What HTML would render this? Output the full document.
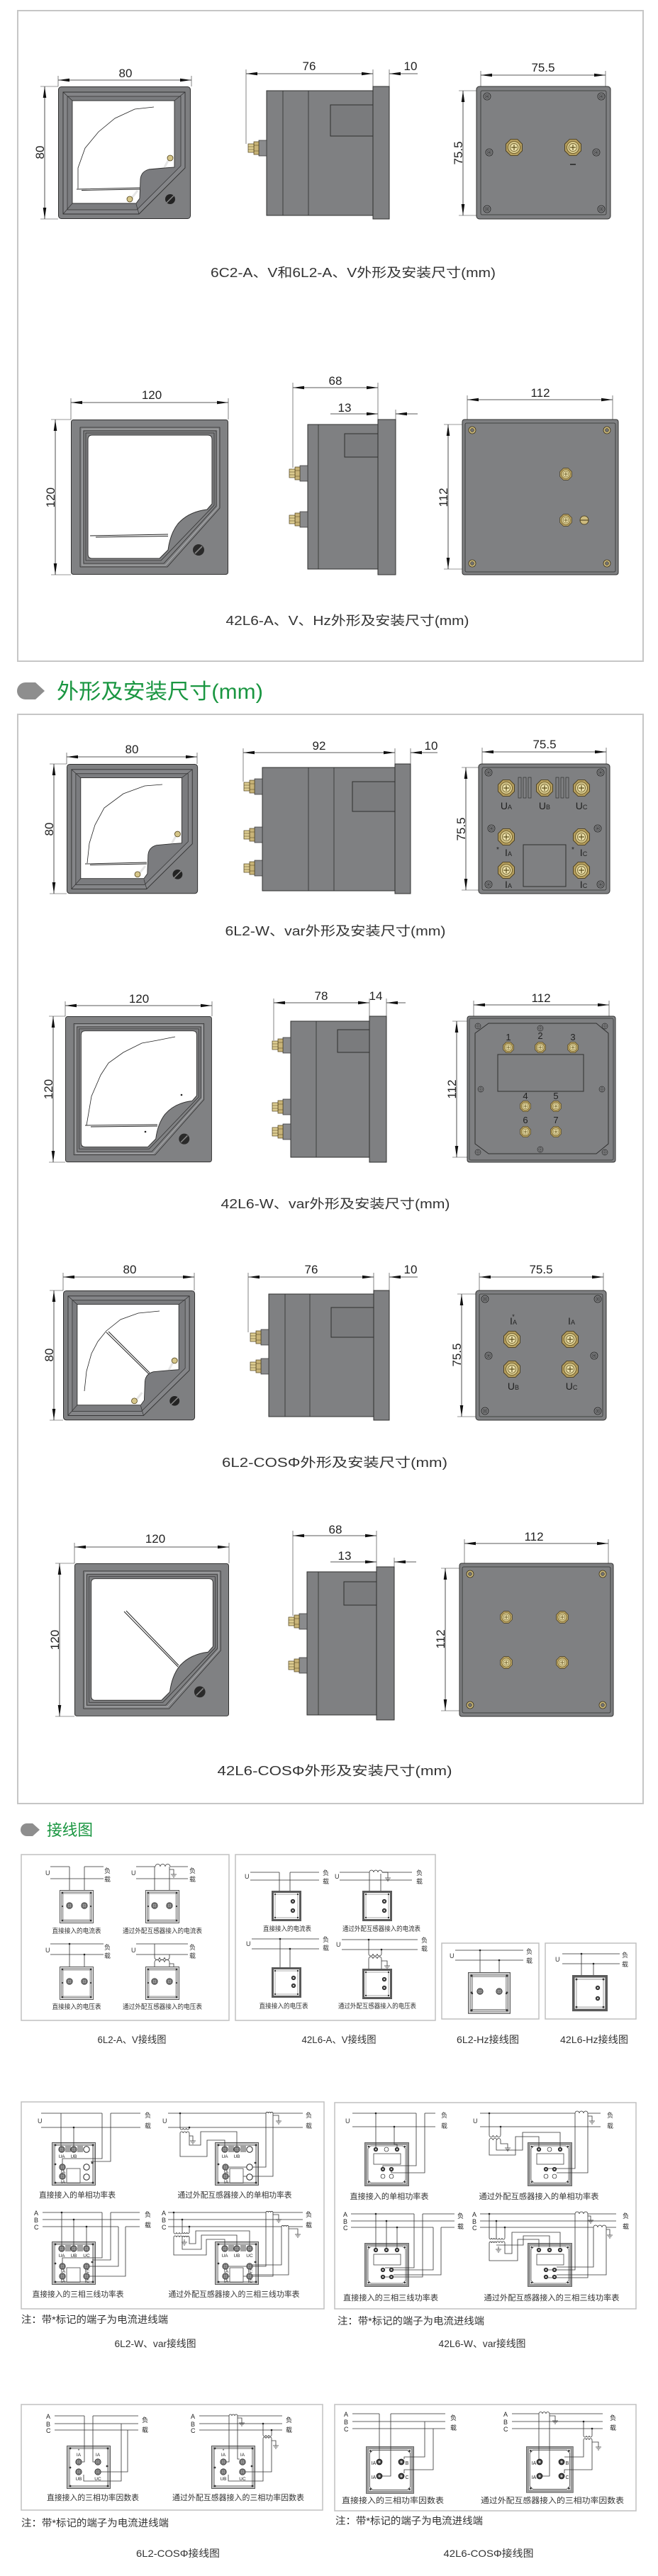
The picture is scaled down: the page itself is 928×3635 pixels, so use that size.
<!DOCTYPE html>
<html><head><meta charset="utf-8">
<style>
html,body{margin:0;padding:0;background:#fff;}
svg{display:block;}
text{font-family:"Liberation Sans","Noto Sans CJK SC",sans-serif;fill:#222;}
.dl{stroke:#222;stroke-width:0.8;fill:none;marker-start:url(#ar);marker-end:url(#ar);}
.d1{stroke:#222;stroke-width:0.8;fill:none;marker-end:url(#ar);}
.ex{stroke:#333;stroke-width:0.6;fill:none;}
.dt{font-size:17px;text-anchor:middle;}
.cap{font-size:18px;text-anchor:middle;fill:#333;}
.bd{fill:#7f8082;stroke:#2f2f2f;stroke-width:1;}
.ln{stroke:#2f2f2f;stroke-width:0.8;fill:none;}
.sl{stroke:#808080;stroke-width:1.3;fill:none;}
.wr{stroke:#333;stroke-width:0.8;fill:none;}
.sc{text-anchor:middle;fill:#333;}
.lb{font-size:9px;fill:#333;}
.fr{fill:none;stroke:#c6c6c6;stroke-width:2;}
.bx{fill:#fff;stroke:#c0c0c0;stroke-width:1.5;}
.tl{font-size:14px;text-anchor:middle;fill:#333;}
</style></head><body>
<svg width="928" height="3635" viewBox="0 0 928 3635" xmlns="http://www.w3.org/2000/svg">
<defs>
<marker id="ar" viewBox="0 0 16 6" refX="16" refY="3" markerWidth="16" markerHeight="6" markerUnits="userSpaceOnUse" orient="auto-start-reverse"><path d="M0,0.7 L16,3 L0,5.3 Z" fill="#111"/></marker>
<g id="tb"><polygon points="11.5,4.8 4.8,11.5 -4.8,11.5 -11.5,4.8 -11.5,-4.8 -4.8,-11.5 4.8,-11.5 11.5,-4.8" fill="#b49d5e" stroke="#3d3214" stroke-width="0.8"/><circle r="8.5" fill="#d8c98e" stroke="#5e4f1e" stroke-width="0.8"/><circle r="5.5" fill="#ebe0ab" stroke="#5e4f1e" stroke-width="0.7"/><path d="M-4,0 H4 M0,-4 V4" stroke="#5e4f1e" stroke-width="1.2"/></g>
<g id="cs"><circle r="5" fill="#8c8d8f" stroke="#222" stroke-width="0.8"/><circle r="3" fill="none" stroke="#222" stroke-width="0.6"/><path d="M-2,0 H2 M0,-2 V2" stroke="#222" stroke-width="0.7"/></g>
<g id="cb"><circle r="5" fill="#cdbb7f" stroke="#3d3214" stroke-width="0.8"/><circle r="2.6" fill="#6f6f6f" stroke="#3d3214" stroke-width="0.5"/></g>
<g id="st"><rect x="-11" y="-11" width="11" height="22" fill="#8a8b8d" stroke="#2f2f2f" stroke-width="0.7"/><rect x="-18" y="-9" width="7" height="18" fill="#c9b478" stroke="#4a3d18" stroke-width="0.7"/><rect x="-26" y="-6" width="8" height="12" fill="#ddcd92" stroke="#4a3d18" stroke-width="0.7"/><path d="M-26,-2 H-18 M-26,2 H-18 M-18,-4 H-11 M-18,4 H-11" stroke="#4a3d18" stroke-width="0.6"/></g>
<g id="f6">
<rect x="0.5" y="0.5" width="186" height="186" rx="4" fill="#7e7f81" stroke="#2f2f2f"/>
<path d="M7,8 H179 V115 L114,180 H7 Z" fill="#848588" stroke="#2f2f2f" stroke-width="0.9"/>
<path d="M13,14 H173 V112 L111,174 H13 Z" fill="#7b7c7f" stroke="#2f2f2f" stroke-width="0.7"/>
<path d="M7,8 L20,20 M179,8 L164,20 M7,180 L20,165 M114,180 L110,166" stroke="#2f2f2f" stroke-width="0.7" fill="none"/>
<path d="M20,20 H164 V114 L150,115 L128,117 Q117,120 116,131 L115,158 L110,165 H20 Z" fill="#fff" stroke="#2f2f2f" stroke-width="0.9"/>
<path d="M150,114 L156,103" stroke="#e6e6e6" stroke-width="3"/>
<circle cx="158" cy="101" r="4" fill="#d6c68a" stroke="#50421a" stroke-width="0.8"/>
<path d="M104,157 L112,147" stroke="#e6e6e6" stroke-width="3"/>
<circle cx="101" cy="159" r="4" fill="#d6c68a" stroke="#50421a" stroke-width="0.8"/>
<circle cx="158" cy="159" r="7" fill="#232323"/>
<path d="M153,164 L163,154" stroke="#888" stroke-width="1.5"/>
</g>
<g id="f42">
<rect x="0.5" y="0.5" width="221" height="218" rx="3" fill="#808183" stroke="#2f2f2f"/>
<path d="M13,11 H210 V125 L136,208 H13 Z" fill="none" stroke="#2f2f2f" stroke-width="0.8" stroke-linejoin="round"/>
<path d="M16,13.5 H207.5 V123.5 L133.5,205.5 H16 Z" fill="none" stroke="#b8b9bb" stroke-width="0.8"/>
<path d="M18,16 H205 V122 L131,203 H18 Z" fill="none" stroke="#2f2f2f" stroke-width="0.8" stroke-linejoin="round"/>
<path d="M21,19 H202 V121 L127,199 H21 Z" fill="none" stroke="#2f2f2f" stroke-width="0.8" stroke-linejoin="round"/>
<path d="M30,22 H193 Q199,22 199,28 V119 L192,127 Q166,130 151,147 Q140,161 137,184 L125,196 H30 Q24,196 24,190 V28 Q24,22 30,22 Z" fill="#fff" stroke="#2f2f2f" stroke-width="1"/>
<circle cx="180" cy="184" r="8" fill="#2a2a2a"/>
<path d="M175,189 L185,179" stroke="#888" stroke-width="1.6"/>
</g>
<g id="mA"><rect x="0.5" y="0.5" width="47" height="46" fill="#fff" stroke="#555"/><rect x="3" y="3" width="42" height="41" fill="none" stroke="#b0b0b0" stroke-width="2.5"/><rect x="5" y="5" width="38" height="37" fill="none" stroke="#666" stroke-width="0.6"/><g fill="#333"><circle cx="4" cy="4" r="1.3"/><circle cx="44" cy="4" r="1.3"/><circle cx="4" cy="43" r="1.3"/><circle cx="44" cy="43" r="1.3"/><circle cx="4" cy="23" r="1.1"/><circle cx="44" cy="23" r="1.1"/></g></g>
<g id="mB"><rect x="1.5" y="1.5" width="39" height="40" fill="#fff" stroke="#5a5a5a" stroke-width="3"/><rect x="5" y="5" width="32" height="33" fill="none" stroke="#aaa" stroke-width="1"/><g fill="#333"><circle cx="5" cy="5" r="1.2"/><circle cx="37" cy="5" r="1.2"/><circle cx="5" cy="38" r="1.2"/><circle cx="37" cy="38" r="1.2"/></g></g>
<g id="mW"><rect x="0.5" y="0.5" width="61" height="60" fill="#fff" stroke="#555"/><rect x="2.5" y="2.5" width="57" height="56" fill="none" stroke="#b0b0b0" stroke-width="2.5"/><rect x="4.5" y="4.5" width="53" height="52" fill="none" stroke="#666" stroke-width="0.6"/><g fill="#333"><circle cx="5" cy="4" r="1.4"/><circle cx="58" cy="4" r="1.4"/><circle cx="5" cy="31" r="1.4"/><circle cx="57" cy="29" r="1.4"/><circle cx="5" cy="57" r="1.4"/><circle cx="58" cy="57" r="1.4"/></g></g>
<g id="mX"><rect x="0.5" y="0.5" width="62" height="61" fill="#fff" stroke="#666"/><rect x="2.5" y="2.5" width="58" height="57" fill="none" stroke="#9a9a9a" stroke-width="3"/><path d="M9,5 H54 L58,9 V53 L54,57 H9 L5,53 V9 Z" fill="none" stroke="#555" stroke-width="0.8"/><g fill="#333"><circle cx="6" cy="6" r="1.3"/><circle cx="57" cy="6" r="1.3"/><circle cx="6" cy="56" r="1.3"/><circle cx="57" cy="56" r="1.3"/></g></g>
<g id="tw"><circle r="4.2" fill="#9a9a9a" stroke="#222" stroke-width="0.8"/><circle r="2.5" fill="#c8c8c8" stroke="#222" stroke-width="0.5"/><path d="M-2,0 H2 M0,-2 V2" stroke="#222" stroke-width="0.6"/></g>
<g id="to"><circle r="4.2" fill="#fff" stroke="#222" stroke-width="1"/></g>
<g id="td"><circle r="2.8" fill="#444" stroke="#111" stroke-width="0.6"/><circle r="1.1" fill="#ccc"/></g>
<g id="gnd"><path d="M0,0 V4 M-4,4 H4 M-2.5,6 H2.5 M-1,8 H1" stroke="#333" stroke-width="0.8" fill="none"/></g>
</defs>

<rect x="0" y="0" width="928" height="3635" fill="#fff"/>

<!-- ================= FRAME 1 ================= -->
<rect class="fr" x="25" y="15" width="882" height="918"/>

<!-- Row 1: 6C2 / 6L2 A,V -->
<g transform="translate(82,122)"><use href="#f6"/>
<polyline points="28,144 28,115 38,87 57,64 80,45 108,32 135,29" fill="none" stroke="#222" stroke-width="0.8"/>
<path d="M26,145 L115,143 M33,146.5 L115,145" stroke="#222" stroke-width="0.9"/></g>
<line class="dl" x1="82" y1="113" x2="270" y2="113"/>
<path class="ex" d="M82,107 V122 M270,107 V122 M57,122 H82 M57,309 H82"/>
<text class="dt" x="177" y="109">80</text>
<line class="dl" x1="63" y1="122" x2="63" y2="309"/>
<text class="dt" transform="translate(56,215) rotate(-90)" dy="6">80</text>

<rect class="bd" x="376" y="128" width="150" height="176"/>
<path class="ln" d="M399,128 V304 M435,128 V304"/>
<rect x="466" y="148" width="60" height="44" fill="#7a7b7d" stroke="#2f2f2f"/>
<rect class="bd" x="526" y="122" width="23" height="187"/>
<use href="#st" x="376" y="209"/>
<line class="dl" x1="347" y1="104" x2="526" y2="104"/>
<line class="d1" x1="589" y1="104" x2="549" y2="104"/>
<path class="ex" d="M347,98 V203 M526,98 V122 M549,98 V122"/>
<text class="dt" x="436" y="99">76</text>
<text class="dt" x="579" y="99">10</text>

<rect class="bd" x="672" y="122" width="189" height="187" rx="4"/>
<rect x="678" y="128" width="177" height="175" rx="2" fill="none" stroke="#2f2f2f" stroke-width="0.8"/>
<use href="#cs" x="687" y="136"/><use href="#cs" x="848" y="136"/><use href="#cs" x="687" y="295"/><use href="#cs" x="848" y="295"/>
<use href="#cs" x="690" y="215"/><use href="#cs" x="841" y="215"/>
<use href="#tb" x="725" y="208"/><use href="#tb" x="808" y="208"/>
<path d="M804,232 H812" stroke="#222" stroke-width="1.5"/>
<line class="dl" x1="678" y1="106" x2="854" y2="106"/>
<path class="ex" d="M678,100 V122 M854,100 V122 M647,128 H672 M647,304 H672"/>
<text class="dt" x="766" y="101">75.5</text>
<line class="dl" x1="653" y1="128" x2="653" y2="304"/>
<text class="dt" transform="translate(646,216) rotate(-90)" dy="6">75.5</text>

<text class="cap" x="498" y="391" textLength="402" lengthAdjust="spacingAndGlyphs">6C2-A、V和6L2-A、V外形及安装尺寸(mm)</text>

<!-- Row 2: 42L6 A,V,Hz -->
<g transform="translate(100,592)"><use href="#f42"/>
<path d="M27,164 L137,162 M35,166 L137,164.5" stroke="#222" stroke-width="0.9"/></g>
<line class="dl" x1="100" y1="568" x2="322" y2="568"/>
<path class="ex" d="M100,562 V592 M322,562 V592 M72,592 H100 M72,811 H100"/>
<text class="dt" x="214" y="563">120</text>
<line class="dl" x1="78" y1="592" x2="78" y2="811"/>
<text class="dt" transform="translate(71,702) rotate(-90)" dy="6">120</text>

<rect class="bd" x="434" y="599" width="99" height="204"/>
<path class="ln" d="M449,599 V803"/>
<rect x="486" y="612" width="47" height="33" fill="#7a7b7d" stroke="#2f2f2f"/>
<rect class="bd" x="533" y="592" width="25" height="219"/>
<use href="#st" x="434" y="668"/><use href="#st" x="434" y="733"/>
<line class="dl" x1="413" y1="547" x2="533" y2="547"/>
<line class="d1" x1="466" y1="584" x2="533" y2="584"/>
<line class="d1" x1="589" y1="584" x2="558" y2="584"/>
<path class="ex" d="M413,540 V660 M533,540 V592 M558,578 V592"/>
<text class="dt" x="473" y="543">68</text>
<text class="dt" x="486" y="581">13</text>

<rect class="bd" x="652" y="592" width="220" height="219" rx="3"/>
<rect x="656" y="597" width="212" height="210" rx="2" fill="none" stroke="#2f2f2f" stroke-width="0.8"/>
<use href="#cb" x="666" y="607"/><use href="#cb" x="856" y="607"/><use href="#cb" x="666" y="795"/><use href="#cb" x="856" y="795"/>
<use href="#tb" transform="translate(798,669) scale(0.72)"/><use href="#tb" transform="translate(798,734) scale(0.72)"/>
<circle cx="824" cy="734" r="6" fill="#cdbb7f" stroke="#3d3214" stroke-width="0.8"/><path d="M818,734 H830" stroke="#3d3214" stroke-width="1"/>
<line class="dl" x1="659" y1="564" x2="864" y2="564"/>
<path class="ex" d="M659,558 V592 M864,558 V592 M626,599 H652 M626,803 H652"/>
<text class="dt" x="762" y="560">112</text>
<line class="dl" x1="632" y1="599" x2="632" y2="803"/>
<text class="dt" transform="translate(625,702) rotate(-90)" dy="6">112</text>

<text class="cap" x="490" y="882" textLength="343" lengthAdjust="spacingAndGlyphs">42L6-A、V、Hz外形及安装尺寸(mm)</text>

<!-- ================= HEADER 1 ================= -->
<path d="M36,963 H50 L63,975 L50,987 H36 A12,12 0 0 1 36,963 Z" fill="#8e8e8e"/>
<text x="80" y="986" font-size="30" fill="#1a9641" textLength="291" lengthAdjust="spacingAndGlyphs" style="fill:#1a9641">外形及安装尺寸(mm)</text>

<!-- ================= FRAME 2 ================= -->
<rect class="fr" x="25" y="1008" width="882" height="1537"/>

<!-- Row 3: 6L2-W,var -->
<g transform="translate(94,1078)"><use href="#f6" transform="scale(0.99,0.98)"/>
<polyline points="29,140 32,112 40,86 53,62 80,42 110,31 135,29" fill="none" stroke="#222" stroke-width="0.8"/>
<path d="M26,141 L113,139 M33,142.5 L113,141" stroke="#222" stroke-width="0.9"/></g>
<line class="dl" x1="94" y1="1068" x2="278" y2="1068"/>
<path class="ex" d="M94,1062 V1078 M278,1062 V1078 M70,1078 H94 M70,1261 H94"/>
<text class="dt" x="186" y="1063">80</text>
<line class="dl" x1="76" y1="1078" x2="76" y2="1261"/>
<text class="dt" transform="translate(69,1170) rotate(-90)" dy="6">80</text>

<rect class="bd" x="370" y="1083" width="187" height="174"/>
<path class="ln" d="M435,1083 V1257 M471,1083 V1257"/>
<rect x="497" y="1103" width="60" height="42" fill="#7a7b7d" stroke="#2f2f2f"/>
<rect class="bd" x="557" y="1078" width="22" height="183"/>
<use href="#st" x="370" y="1110"/><use href="#st" x="370" y="1178"/><use href="#st" x="370" y="1225"/>
<line class="dl" x1="343" y1="1062" x2="557" y2="1062"/>
<line class="d1" x1="617" y1="1062" x2="579" y2="1062"/>
<path class="ex" d="M343,1056 V1103 M557,1056 V1078 M579,1056 V1078"/>
<text class="dt" x="450" y="1058">92</text>
<text class="dt" x="608" y="1058">10</text>

<rect class="bd" x="675" y="1078" width="185" height="183" rx="4"/>
<rect x="680" y="1083" width="175" height="173" rx="2" fill="none" stroke="#2f2f2f" stroke-width="0.8"/>
<use href="#cs" x="689" y="1090"/><use href="#cs" x="847" y="1090"/><use href="#cs" x="693" y="1169"/><use href="#cs" x="843" y="1169"/><use href="#cs" x="689" y="1248"/><use href="#cs" x="847" y="1248"/>
<g fill="#7f8082" stroke="#2f2f2f" stroke-width="0.7"><rect x="731" y="1097" width="4" height="29"/><rect x="738" y="1097" width="4" height="29"/><rect x="745" y="1097" width="4" height="29"/><rect x="784" y="1097" width="4" height="29"/><rect x="791" y="1097" width="4" height="29"/><rect x="798" y="1097" width="4" height="29"/></g>
<use href="#tb" x="714" y="1112"/><use href="#tb" x="768" y="1112"/><use href="#tb" x="820" y="1112"/>
<use href="#tb" x="714" y="1181"/><use href="#tb" x="820" y="1181"/>
<use href="#tb" x="714" y="1228"/><use href="#tb" x="820" y="1228"/>
<rect x="738" y="1192" width="60" height="59" fill="none" stroke="#2f2f2f" stroke-width="1"/>
<g font-size="14" class="sc"><text x="714" y="1142">U<tspan font-size="9">A</tspan></text><text x="768" y="1142">U<tspan font-size="9">B</tspan></text><text x="820" y="1142">U<tspan font-size="9">C</tspan></text>
<text x="717" y="1208">I<tspan font-size="9">A</tspan></text><text x="823" y="1208">I<tspan font-size="9">C</tspan></text>
<text x="717" y="1253">I<tspan font-size="9">A</tspan></text><text x="823" y="1253">I<tspan font-size="9">C</tspan></text>
<text x="702" y="1202" font-size="10">*</text><text x="808" y="1202" font-size="10">*</text></g>
<line class="dl" x1="680" y1="1061" x2="855" y2="1061"/>
<path class="ex" d="M680,1055 V1078 M855,1055 V1078 M651,1083 H675 M651,1256 H675"/>
<text class="dt" x="768" y="1056">75.5</text>
<line class="dl" x1="657" y1="1083" x2="657" y2="1256"/>
<text class="dt" transform="translate(650,1170) rotate(-90)" dy="6">75.5</text>

<text class="cap" x="473" y="1320" textLength="311" lengthAdjust="spacingAndGlyphs">6L2-W、var外形及安装尺寸(mm)</text>

<!-- Row 4: 42L6-W,var -->
<g transform="translate(92,1434) scale(0.932,0.941)"><use href="#f42"/></g>
<polyline points="122,1588 129,1547 142,1517 153,1500 174,1485 200,1472 222,1468 247,1463" fill="none" stroke="#222" stroke-width="0.8"/>
<path d="M120,1588 L222,1587 M128,1590 L222,1589" stroke="#222" stroke-width="0.9"/>
<circle cx="256" cy="1545" r="1.3" fill="#222"/><circle cx="205" cy="1597" r="1.3" fill="#222"/>
<line class="dl" x1="92" y1="1419" x2="299" y2="1419"/>
<path class="ex" d="M92,1413 V1434 M299,1413 V1434 M69,1434 H92 M69,1640 H92"/>
<text class="dt" x="196" y="1415">120</text>
<line class="dl" x1="75" y1="1434" x2="75" y2="1640"/>
<text class="dt" transform="translate(68,1537) rotate(-90)" dy="6">120</text>

<rect class="bd" x="410" y="1441" width="111" height="192"/>
<path class="ln" d="M446,1441 V1633"/>
<rect x="476" y="1453" width="45" height="32" fill="#7a7b7d" stroke="#2f2f2f"/>
<rect class="bd" x="521" y="1434" width="24" height="206"/>
<use href="#st" x="410" y="1475"/><use href="#st" x="410" y="1562"/><use href="#st" x="410" y="1597"/>
<line class="dl" x1="386" y1="1415" x2="521" y2="1415"/>
<line class="d1" x1="572" y1="1415" x2="545" y2="1415"/>
<path class="ex" d="M386,1409 V1468 M521,1409 V1434 M545,1409 V1434"/>
<text class="dt" x="453" y="1411">78</text>
<text class="dt" x="530" y="1411">14</text>

<rect class="bd" x="659" y="1434" width="209" height="206" rx="3"/>
<rect x="662" y="1437" width="203" height="200" rx="2" fill="none" stroke="#2f2f2f" stroke-width="0.7"/>
<path d="M689,1444 H841 L858,1458 V1614 L841,1628 H689 L670,1614 V1458 Z" fill="none" stroke="#2f2f2f" stroke-width="1"/>
<g transform="scale(1)"><use href="#cs" transform="translate(674,1448) scale(0.8)"/><use href="#cs" transform="translate(853,1448) scale(0.8)"/><use href="#cs" transform="translate(674,1626) scale(0.8)"/><use href="#cs" transform="translate(853,1626) scale(0.8)"/><use href="#cs" transform="translate(762,1451) scale(0.8)"/><use href="#cs" transform="translate(762,1622) scale(0.8)"/><use href="#cs" transform="translate(678,1537) scale(0.8)"/><use href="#cs" transform="translate(849,1537) scale(0.8)"/></g>
<rect x="702" y="1488" width="121" height="52" fill="none" stroke="#2f2f2f" stroke-width="1"/>
<use href="#tb" transform="translate(717,1478) scale(0.65)"/><use href="#tb" transform="translate(762,1478) scale(0.65)"/><use href="#tb" transform="translate(808,1478) scale(0.65)"/>
<use href="#tb" transform="translate(741,1561) scale(0.65)"/><use href="#tb" transform="translate(784,1561) scale(0.65)"/>
<use href="#tb" transform="translate(741,1597) scale(0.65)"/><use href="#tb" transform="translate(784,1597) scale(0.65)"/>
<g font-size="13" class="sc"><text x="717" y="1468">1</text><text x="762" y="1466">2</text><text x="808" y="1468">3</text><text x="741" y="1551">4</text><text x="784" y="1551">5</text><text x="741" y="1585">6</text><text x="784" y="1585">7</text></g>
<line class="dl" x1="668" y1="1418" x2="859" y2="1418"/>
<path class="ex" d="M668,1412 V1434 M859,1412 V1434 M638,1441 H659 M638,1633 H659"/>
<text class="dt" x="763" y="1414">112</text>
<line class="dl" x1="644" y1="1441" x2="644" y2="1633"/>
<text class="dt" transform="translate(637,1537) rotate(-90)" dy="6">112</text>

<text class="cap" x="473" y="1705" textLength="323" lengthAdjust="spacingAndGlyphs">42L6-W、var外形及安装尺寸(mm)</text>

<!-- Row 5: 6L2-COS -->
<g transform="translate(89,1821)"><use href="#f6" transform="scale(0.995,0.98)"/></g>
<polyline points="119,1963 122,1935 129,1910 138,1893 150,1878 170,1862 195,1853 225,1850" fill="none" stroke="#222" stroke-width="0.8"/>
<path d="M150,1880 L210,1939 M153,1879 L211,1937" stroke="#222" stroke-width="1"/>
<line class="dl" x1="89" y1="1802" x2="274" y2="1802"/>
<path class="ex" d="M89,1796 V1821 M274,1796 V1821 M70,1821 H89 M70,2004 H89"/>
<text class="dt" x="183" y="1797">80</text>
<line class="dl" x1="76" y1="1821" x2="76" y2="2004"/>
<text class="dt" transform="translate(69,1912) rotate(-90)" dy="6">80</text>

<rect class="bd" x="379" y="1826" width="148" height="173"/>
<path class="ln" d="M402,1826 V1999 M437,1826 V1999"/>
<rect x="467" y="1845" width="60" height="42" fill="#7a7b7d" stroke="#2f2f2f"/>
<rect class="bd" x="527" y="1821" width="22" height="183"/>
<use href="#st" x="379" y="1887"/><use href="#st" x="379" y="1928"/>
<line class="dl" x1="350" y1="1802" x2="527" y2="1802"/>
<line class="d1" x1="589" y1="1802" x2="549" y2="1802"/>
<path class="ex" d="M350,1796 V1880 M527,1796 V1821 M549,1796 V1821"/>
<text class="dt" x="439" y="1797">76</text>
<text class="dt" x="579" y="1797">10</text>

<rect class="bd" x="671" y="1821" width="184" height="183" rx="4"/>
<rect x="676" y="1826" width="174" height="173" rx="2" fill="none" stroke="#2f2f2f" stroke-width="0.8"/>
<use href="#cs" x="684" y="1833"/><use href="#cs" x="843" y="1833"/><use href="#cs" x="689" y="1913"/><use href="#cs" x="838" y="1913"/><use href="#cs" x="684" y="1991"/><use href="#cs" x="843" y="1991"/>
<use href="#tb" x="722" y="1890"/><use href="#tb" x="804" y="1890"/><use href="#tb" x="722" y="1932"/><use href="#tb" x="804" y="1932"/>
<g font-size="14" class="sc"><text x="724" y="1869">I<tspan font-size="9">A</tspan></text><text x="806" y="1869">I<tspan font-size="9">A</tspan></text><text x="724" y="1861" font-size="9">*</text>
<text x="724" y="1961">U<tspan font-size="9">B</tspan></text><text x="806" y="1961">U<tspan font-size="9">C</tspan></text></g>
<line class="dl" x1="676" y1="1802" x2="851" y2="1802"/>
<path class="ex" d="M676,1796 V1821 M851,1796 V1821 M645,1826 H671 M645,1999 H671"/>
<text class="dt" x="763" y="1797">75.5</text>
<line class="dl" x1="651" y1="1826" x2="651" y2="1999"/>
<text class="dt" transform="translate(644,1912) rotate(-90)" dy="6">75.5</text>

<text class="cap" x="472" y="2070" textLength="318" lengthAdjust="spacingAndGlyphs">6L2-COSΦ外形及安装尺寸(mm)</text>

<!-- Row 6: 42L6-COS -->
<g transform="translate(105,2206) scale(0.982,0.986)"><use href="#f42"/></g>
<path d="M175,2274 L251,2352 M178,2273 L252,2350" stroke="#222" stroke-width="1"/>
<line class="dl" x1="105" y1="2183" x2="323" y2="2183"/>
<path class="ex" d="M105,2177 V2206 M323,2177 V2206 M78,2206 H105 M78,2422 H105"/>
<text class="dt" x="219" y="2177">120</text>
<line class="dl" x1="84" y1="2206" x2="84" y2="2422"/>
<text class="dt" transform="translate(77,2314) rotate(-90)" dy="6">120</text>

<rect class="bd" x="433" y="2218" width="98" height="202"/>
<path class="ln" d="M449,2218 V2420"/>
<rect x="485" y="2232" width="46" height="33" fill="#7a7b7d" stroke="#2f2f2f"/>
<rect class="bd" x="531" y="2211" width="25" height="216"/>
<use href="#st" x="433" y="2288"/><use href="#st" x="433" y="2350"/>
<line class="dl" x1="413" y1="2167" x2="531" y2="2167"/>
<line class="d1" x1="466" y1="2204" x2="531" y2="2204"/>
<line class="d1" x1="587" y1="2204" x2="556" y2="2204"/>
<path class="ex" d="M413,2160 V2280 M531,2160 V2211 M556,2198 V2211"/>
<text class="dt" x="473" y="2164">68</text>
<text class="dt" x="486" y="2201">13</text>

<rect class="bd" x="648" y="2206" width="217" height="216" rx="3"/>
<rect x="652" y="2211" width="209" height="206" rx="2" fill="none" stroke="#2f2f2f" stroke-width="0.8"/>
<use href="#cb" x="663" y="2221"/><use href="#cb" x="850" y="2221"/><use href="#cb" x="663" y="2406"/><use href="#cb" x="850" y="2406"/>
<use href="#tb" transform="translate(714,2282) scale(0.72)"/><use href="#tb" transform="translate(793,2282) scale(0.72)"/>
<use href="#tb" transform="translate(714,2346) scale(0.72)"/><use href="#tb" transform="translate(793,2346) scale(0.72)"/>
<line class="dl" x1="655" y1="2178" x2="858" y2="2178"/>
<path class="ex" d="M655,2172 V2206 M858,2172 V2206 M622,2213 H648 M622,2414 H648"/>
<text class="dt" x="753" y="2174">112</text>
<line class="dl" x1="628" y1="2213" x2="628" y2="2414"/>
<text class="dt" transform="translate(621,2313) rotate(-90)" dy="6">112</text>

<text class="cap" x="472" y="2505" textLength="331" lengthAdjust="spacingAndGlyphs">42L6-COSΦ外形及安装尺寸(mm)</text>

<!-- ================= HEADER 2 ================= -->
<path d="M38,2573 H46 L56,2582 L46,2591 H38 A9,9 0 0 1 38,2573 Z" fill="#8e8e8e"/>
<text x="66" y="2590" font-size="22" textLength="65" lengthAdjust="spacingAndGlyphs" style="fill:#1a9641">接线图</text>

<!-- ================= WIRING ROW 1 ================= -->
<rect class="bx" x="30" y="2617" width="293" height="234"/>
<rect class="bx" x="332" y="2617" width="282" height="234"/>
<rect class="bx" x="623" y="2742" width="137" height="107"/>
<rect class="bx" x="769" y="2742" width="128" height="107"/>

<!-- box1 TL -->
<path class="sl" d="M71,2634 H98 M119,2634 H146 M71,2651 H146"/>
<path class="wr" d="M98,2634 V2689 M119,2634 V2689"/>
<use href="#mA" x="84" y="2667"/>
<use href="#tw" x="98" y="2689"/><use href="#tw" x="119" y="2689"/>
<text class="lb" x="64" y="2646">U</text><text class="lb" x="147" y="2643">负</text><text class="lb" x="147" y="2655">载</text>
<text class="sc" x="108" y="2728" font-size="9.5" textLength="69" lengthAdjust="spacingAndGlyphs">直接接入的电流表</text>
<!-- box1 TR -->
<path class="sl" d="M192,2634 H219 M240,2634 H265 M192,2651 H265"/>
<path class="wr" d="M219,2634 a3.5,3.5 0 0 1 7,0 a3.5,3.5 0 0 1 7,0 a3.5,3.5 0 0 1 7,0 M218,2634 V2689 M239,2634 V2689 M239,2638 H245 V2641"/>
<use href="#gnd" x="245" y="2641"/>
<use href="#mA" x="205" y="2667"/>
<use href="#tw" x="218" y="2689"/><use href="#tw" x="239" y="2689"/>
<text class="lb" x="185" y="2646">U</text><text class="lb" x="267" y="2643">负</text><text class="lb" x="267" y="2655">载</text>
<text class="sc" x="229" y="2728" font-size="9.5" textLength="112" lengthAdjust="spacingAndGlyphs">通过外配互感器接入的电流表</text>
<!-- box1 BL -->
<path class="sl" d="M71,2743 H146 M71,2758 H146"/>
<path class="wr" d="M98,2743 V2796 M119,2758 V2796"/>
<circle cx="98" cy="2743" r="1.3" fill="#222"/><circle cx="119" cy="2758" r="1.3" fill="#222"/>
<use href="#mA" x="84" y="2775"/>
<use href="#tw" x="98" y="2796"/><use href="#tw" x="119" y="2796"/>
<text class="lb" x="64" y="2755">U</text><text class="lb" x="147" y="2751">负</text><text class="lb" x="147" y="2763">载</text>
<text class="sc" x="108" y="2835" font-size="9.5" textLength="69" lengthAdjust="spacingAndGlyphs">直接接入的电压表</text>
<!-- box1 BR -->
<path class="sl" d="M192,2743 H265 M192,2758 H265"/>
<path class="wr" d="M218,2743 V2762 M239,2758 V2762 M218,2762 a3.5,3.5 0 0 0 7,0 a3.5,3.5 0 0 0 7,0 a3.5,3.5 0 0 0 7,0 M218,2769 a3.5,3.5 0 0 1 7,0 a3.5,3.5 0 0 1 7,0 a3.5,3.5 0 0 1 7,0 M218,2769 V2796 M239,2769 V2796 M239,2771 H245 V2773"/>
<use href="#gnd" x="245" y="2773"/>
<use href="#mA" x="205" y="2775"/>
<use href="#tw" x="218" y="2796"/><use href="#tw" x="239" y="2796"/>
<text class="lb" x="185" y="2755">U</text><text class="lb" x="267" y="2751">负</text><text class="lb" x="267" y="2763">载</text>
<text class="sc" x="229" y="2835" font-size="9.5" textLength="112" lengthAdjust="spacingAndGlyphs">通过外配互感器接入的电压表</text>

<!-- box2 TL -->
<path class="sl" d="M353,2642 H394 M409,2642 H450 M353,2653 H450"/>
<path class="wr" d="M394,2642 V2683 H413 M409,2642 V2696 H413"/>
<use href="#mB" x="383" y="2668"/>
<use href="#td" x="413" y="2683"/><use href="#td" x="413" y="2696"/>
<text class="lb" x="345" y="2651">U</text><text class="lb" x="455" y="2646">负</text><text class="lb" x="455" y="2658">载</text>
<text class="sc" x="405" y="2725" font-size="9.5" textLength="68" lengthAdjust="spacingAndGlyphs">直接接入的电流表</text>
<!-- box2 TR -->
<path class="sl" d="M479,2642 H521 M539,2642 H581 M479,2653 H581"/>
<path class="wr" d="M521,2642 a3,3 0 0 1 6,0 a3,3 0 0 1 6,0 a3,3 0 0 1 6,0 M521,2642 V2683 H542 M537,2644 V2696 H542 M539,2642 H547 V2646"/>
<use href="#gnd" x="547" y="2646"/>
<use href="#mB" x="511" y="2668"/>
<use href="#td" x="542" y="2683"/><use href="#td" x="542" y="2696"/>
<text class="lb" x="472" y="2651">U</text><text class="lb" x="587" y="2646">负</text><text class="lb" x="587" y="2658">载</text>
<text class="sc" x="538" y="2725" font-size="9.5" textLength="110" lengthAdjust="spacingAndGlyphs">通过外配互感器接入的电流表</text>
<!-- box2 BL -->
<path class="sl" d="M355,2736 H450 M355,2750 H450"/>
<path class="wr" d="M395,2736 V2791 H414 M409,2750 V2802 H414"/>
<circle cx="395" cy="2736" r="1.3" fill="#222"/><circle cx="409" cy="2750" r="1.3" fill="#222"/>
<use href="#mB" x="383" y="2776"/>
<use href="#td" x="414" y="2791"/><use href="#td" x="414" y="2802"/>
<text class="lb" x="347" y="2746">U</text><text class="lb" x="455" y="2740">负</text><text class="lb" x="455" y="2752">载</text>
<text class="sc" x="400" y="2834" font-size="9.5" textLength="69" lengthAdjust="spacingAndGlyphs">直接接入的电压表</text>
<!-- box2 BR -->
<path class="sl" d="M482,2737 H589 M482,2751 H589"/>
<path class="wr" d="M520,2737 V2757 M538,2751 V2757 M520,2757 a3,3 0 0 0 6,0 a3,3 0 0 0 6,0 a3,3 0 0 0 6,0 M520,2764 a3,3 0 0 1 6,0 a3,3 0 0 1 6,0 a3,3 0 0 1 6,0 M520,2764 V2793 H542 M538,2764 V2805 H542 M538,2767 H546 V2770"/>
<circle cx="520" cy="2737" r="1.3" fill="#222"/><circle cx="538" cy="2751" r="1.3" fill="#222"/>
<use href="#gnd" x="546" y="2770"/>
<use href="#mB" x="511" y="2778"/>
<use href="#td" x="542" y="2793"/><use href="#td" x="542" y="2805"/>
<text class="lb" x="474" y="2747">U</text><text class="lb" x="594" y="2741">负</text><text class="lb" x="594" y="2753">载</text>
<text class="sc" x="532" y="2834" font-size="9.5" textLength="110" lengthAdjust="spacingAndGlyphs">通过外配互感器接入的电压表</text>

<!-- box3 -->
<path class="sl" d="M642,2752 H738 M642,2766 H738"/>
<path class="wr" d="M677,2752 V2810 M704,2766 V2810"/>
<circle cx="677" cy="2752" r="1.3" fill="#222"/><circle cx="704" cy="2766" r="1.3" fill="#222"/>
<g transform="translate(660,2783) scale(1.25)"><use href="#mA"/></g>
<use href="#tw" x="677" y="2810"/><use href="#tw" x="704" y="2810"/>
<circle cx="666" cy="2813" r="1.2" fill="#333"/><circle cx="714" cy="2813" r="1.2" fill="#333"/>
<text class="lb" x="634" y="2763" font-size="11">U</text><text class="lb" x="742" y="2757" font-size="10">负</text><text class="lb" x="742" y="2770" font-size="10">载</text>
<!-- box4 -->
<path class="sl" d="M793,2757 H874 M793,2771 H874"/>
<path class="wr" d="M820,2757 V2805 H843 M837,2771 V2820 H843"/>
<circle cx="820" cy="2757" r="1.3" fill="#222"/><circle cx="837" cy="2771" r="1.3" fill="#222"/>
<g transform="translate(807,2787) scale(1.19)"><use href="#mB"/></g>
<use href="#td" x="843" y="2805"/><use href="#td" x="843" y="2820"/>
<text class="lb" x="783" y="2768" font-size="11">U</text><text class="lb" x="877" y="2762" font-size="10">负</text><text class="lb" x="877" y="2775" font-size="10">载</text>

<text class="tl" x="186" y="2883" textLength="97" lengthAdjust="spacingAndGlyphs">6L2-A、V接线图</text>
<text class="tl" x="478" y="2883" textLength="105" lengthAdjust="spacingAndGlyphs">42L6-A、V接线图</text>
<text class="tl" x="688" y="2883" textLength="88" lengthAdjust="spacingAndGlyphs">6L2-Hz接线图</text>
<text class="tl" x="838" y="2883" textLength="96" lengthAdjust="spacingAndGlyphs">42L6-Hz接线图</text>

<!-- ================= WIRING ROW 2 ================= -->
<rect class="bx" x="30" y="2966" width="427" height="292"/>
<rect class="bx" x="472" y="2967" width="425" height="291"/>

<!-- box5 TL -->
<path class="sl" d="M58,2982 H144 M156,2982 H198 M58,3002 H198"/>
<use href="#mW" x="73" y="3023"/>
<path class="wr" d="M86,2982 V3029 M104,3002 V3029 M144,2982 V3046 H88 V3054 M156,2982 V3050 H128"/>
<circle cx="104" cy="3002" r="1.3" fill="#222"/>
<path d="M93,3028 V3037 M95,3028 V3037 M97,3028 V3037 M99,3028 V3037 M110,3028 V3037 M112,3028 V3037 M114,3028 V3037 M116,3028 V3037" stroke="#333" stroke-width="0.9"/>
<use href="#tw" x="87" y="3033"/><use href="#tw" x="104" y="3033"/><use href="#to" x="122" y="3033"/>
<use href="#tw" x="88" y="3058"/><use href="#tw" x="88" y="3071"/><use href="#to" x="122" y="3058"/><use href="#to" x="122" y="3072"/>
<rect x="94" y="3060" width="19" height="20" fill="#fff" stroke="#444" stroke-width="0.8"/>
<g font-size="6.5" class="sc"><text x="87" y="3045">UA</text><text x="104" y="3045">UB</text><text x="89" y="3067">IA</text><text x="89" y="3081">IA</text></g>
<text class="lb" x="53" y="2996" font-size="10">U</text><text class="lb" x="204" y="2988" font-size="10">负</text><text class="lb" x="204" y="3003" font-size="10">载</text>
<text class="sc" x="109" y="3101" font-size="11" textLength="108" lengthAdjust="spacingAndGlyphs">直接接入的单相功率表</text>
<!-- box5 TR -->
<path class="sl" d="M237,2982 H375 M385,2982 H427 M237,3002 H427"/>
<use href="#mW" x="303" y="3023"/>
<path class="wr" d="M375,2982 a1.67,1.67 0 0 1 3.33,0 a1.67,1.67 0 0 1 3.33,0 a1.67,1.67 0 0 1 3.33,0 M254,2982 V3003 M267,3002 V3003 M254,3003 a2.17,2.17 0 0 0 4.33,0 a2.17,2.17 0 0 0 4.33,0 a2.17,2.17 0 0 0 4.33,0 M254,3010 a2.17,2.17 0 0 1 4.33,0 a2.17,2.17 0 0 1 4.33,0 a2.17,2.17 0 0 1 4.33,0 M254,3010 V3043 H292 V3020 H317 V3029 M267,3010 V3027 H283 V3008 H334 V3029 M267,3014 H272 V3017 M375,2982 V3058 H322 M385,2982 V3071 H322 M385,2985 H393 V2989"/>
<circle cx="254" cy="2982" r="1.3" fill="#222"/><circle cx="267" cy="3002" r="1.3" fill="#222"/>
<use href="#gnd" x="272" y="3017"/><use href="#gnd" x="393" y="2989"/>
<path d="M323,3028 V3037 M325,3028 V3037 M327,3028 V3037 M329,3028 V3037 M340,3028 V3037 M342,3028 V3037 M344,3028 V3037 M346,3028 V3037" stroke="#333" stroke-width="0.9"/>
<use href="#tw" x="317" y="3033"/><use href="#tw" x="334" y="3033"/><use href="#to" x="352" y="3033"/>
<use href="#tw" x="318" y="3058"/><use href="#tw" x="318" y="3071"/><use href="#to" x="352" y="3058"/><use href="#to" x="352" y="3072"/>
<rect x="324" y="3060" width="19" height="20" fill="#fff" stroke="#444" stroke-width="0.8"/>
<g font-size="6.5" class="sc"><text x="317" y="3045">UA</text><text x="334" y="3045">UB</text><text x="319" y="3067">IA</text><text x="319" y="3081">IA</text></g>
<text class="lb" x="229" y="2996" font-size="10">U</text><text class="lb" x="431" y="2988" font-size="10">负</text><text class="lb" x="431" y="3003" font-size="10">载</text>
<text class="sc" x="331" y="3101" font-size="11" textLength="161" lengthAdjust="spacingAndGlyphs">通过外配互感器接入的单相功率表</text>
<!-- box5 BL -->
<path class="sl" d="M60,3122 H144 M156,3122 H197 M60,3132 H197 M60,3142 H167 M177,3142 H197"/>
<use href="#mW" x="73" y="3163"/>
<path class="wr" d="M87,3122 V3169 M104,3132 V3169 M122,3142 V3169 M144,3122 V3186 H88 V3194 M156,3122 V3189 H130 M167,3142 V3198 H126 M177,3142 V3212 H126"/>
<circle cx="87" cy="3122" r="1.3" fill="#222"/><circle cx="104" cy="3132" r="1.3" fill="#222"/><circle cx="122" cy="3142" r="1.3" fill="#222"/>
<path d="M93,3168 V3177 M95,3168 V3177 M97,3168 V3177 M99,3168 V3177 M110,3168 V3177 M112,3168 V3177 M114,3168 V3177 M116,3168 V3177" stroke="#333" stroke-width="0.9"/>
<use href="#tw" x="87" y="3173"/><use href="#tw" x="104" y="3173"/><use href="#tw" x="122" y="3173"/>
<use href="#tw" x="88" y="3198"/><use href="#tw" x="88" y="3212"/><use href="#tw" x="122" y="3198"/><use href="#tw" x="122" y="3212"/>
<rect x="94" y="3200" width="19" height="20" fill="#fff" stroke="#444" stroke-width="0.8"/>
<g font-size="6.5" class="sc"><text x="87" y="3185">UA</text><text x="104" y="3185">UB</text><text x="122" y="3185">UC</text><text x="89" y="3207">IA</text><text x="89" y="3221">IA</text><text x="123" y="3207">IC</text><text x="123" y="3221">IC</text></g>
<g class="lb" font-size="10"><text x="48" y="3126">A</text><text x="48" y="3136">B</text><text x="48" y="3146">C</text><text x="204" y="3128">负</text><text x="204" y="3143">载</text></g>
<text class="sc" x="110" y="3241" font-size="11" textLength="129" lengthAdjust="spacingAndGlyphs">直接接入的三相三线功率表</text>
<!-- box5 BR -->
<path class="sl" d="M237,3122 H375 M385,3122 H427 M237,3132 H427 M237,3142 H397 M407,3142 H427"/>
<use href="#mW" x="303" y="3163"/>
<path class="wr" d="M375,3122 a1.67,1.67 0 0 1 3.33,0 a1.67,1.67 0 0 1 3.33,0 a1.67,1.67 0 0 1 3.33,0 M397,3142 a1.67,1.67 0 0 1 3.33,0 a1.67,1.67 0 0 1 3.33,0 a1.67,1.67 0 0 1 3.33,0 M245,3122 V3150 M257,3132 V3150 M267,3142 V3150 M245,3150 a2,2 0 0 0 4,0 a2,2 0 0 0 4,0 a2,2 0 0 0 4,0 M257,3150 a1.67,1.67 0 0 0 3.33,0 a1.67,1.67 0 0 0 3.33,0 a1.67,1.67 0 0 0 3.33,0 M245,3157 a2,2 0 0 1 4,0 a2,2 0 0 1 4,0 a2,2 0 0 1 4,0 M257,3157 a1.67,1.67 0 0 1 3.33,0 a1.67,1.67 0 0 1 3.33,0 a1.67,1.67 0 0 1 3.33,0 M245,3157 V3182 H291 V3160 H317 V3169 M257,3157 V3174 H284 V3154 H334 V3169 M267,3157 V3166 H276 V3148 H352 V3169 M375,3122 V3198 H322 M385,3122 V3212 H322 M397,3142 V3196 H356 M407,3142 V3210 H356 M385,3125 H393 V3128 M407,3145 H420 V3149"/>
<circle cx="245" cy="3122" r="1.3" fill="#222"/><circle cx="257" cy="3132" r="1.3" fill="#222"/><circle cx="267" cy="3142" r="1.3" fill="#222"/>
<use href="#gnd" x="393" y="3128"/><use href="#gnd" x="420" y="3149"/><use href="#gnd" x="260" y="3160"/>
<path d="M323,3168 V3177 M325,3168 V3177 M327,3168 V3177 M329,3168 V3177 M340,3168 V3177 M342,3168 V3177 M344,3168 V3177 M346,3168 V3177" stroke="#333" stroke-width="0.9"/>
<use href="#tw" x="317" y="3173"/><use href="#tw" x="334" y="3173"/><use href="#tw" x="352" y="3173"/>
<use href="#tw" x="318" y="3198"/><use href="#tw" x="318" y="3212"/><use href="#tw" x="352" y="3198"/><use href="#tw" x="352" y="3212"/>
<rect x="324" y="3200" width="19" height="20" fill="#fff" stroke="#444" stroke-width="0.8"/>
<g font-size="6.5" class="sc"><text x="317" y="3185">UA</text><text x="334" y="3185">UB</text><text x="352" y="3185">UC</text><text x="319" y="3207">IA</text><text x="319" y="3221">IA</text><text x="353" y="3207">IC</text><text x="353" y="3221">IC</text></g>
<g class="lb" font-size="10"><text x="228" y="3126">A</text><text x="228" y="3136">B</text><text x="228" y="3146">C</text><text x="431" y="3128">负</text><text x="431" y="3143">载</text></g>
<text class="sc" x="330" y="3241" font-size="11" textLength="185" lengthAdjust="spacingAndGlyphs">通过外配互感器接入的三相三线功率表</text>

<!-- box6 TL -->
<path class="sl" d="M497,2982 H587 M599,2982 H614 M497,3001 H614"/>
<use href="#mX" x="514" y="3023"/>
<rect x="527" y="3039" width="38" height="15" fill="#fff" stroke="#444" stroke-width="0.8"/>
<path class="wr" d="M530,2982 V3030 M556,3001 V3026 H560 V3030 M587,2982 V3056 H540 V3058 M599,2982 V3066 H552 V3064"/>
<circle cx="530" cy="2982" r="1.3" fill="#222"/><circle cx="556" cy="3001" r="1.3" fill="#222"/>
<use href="#td" x="530" y="3033"/><use href="#to" transform="translate(545,3033) scale(0.7)"/><use href="#td" x="560" y="3033"/>
<use href="#td" x="540" y="3061"/><use href="#td" x="552" y="3061"/><use href="#to" transform="translate(540,3071) scale(0.7)"/><use href="#to" transform="translate(552,3071) scale(0.7)"/>
<text class="lb" x="487" y="2996" font-size="10">U</text><text class="lb" x="622" y="2988" font-size="10">负</text><text class="lb" x="622" y="3003" font-size="10">载</text>
<text class="sc" x="549" y="3103" font-size="11" textLength="111" lengthAdjust="spacingAndGlyphs">直接接入的单相功率表</text>
<!-- box6 TR -->
<path class="sl" d="M677,2982 H811 M829,2982 H847 M677,3001 H847"/>
<use href="#mX" x="744" y="3023"/>
<rect x="757" y="3039" width="38" height="15" fill="#fff" stroke="#444" stroke-width="0.8"/>
<path class="wr" d="M811,2982 a3,3 0 0 1 6,0 a3,3 0 0 1 6,0 a3,3 0 0 1 6,0 M690,2982 V3013 M706,3001 V3013 M690,3013 a2.67,2.67 0 0 0 5.33,0 a2.67,2.67 0 0 0 5.33,0 a2.67,2.67 0 0 0 5.33,0 M690,3020 a2.67,2.67 0 0 1 5.33,0 a2.67,2.67 0 0 1 5.33,0 a2.67,2.67 0 0 1 5.33,0 M690,3020 V3041 H727 V3015 H760 V3030 M706,3020 V3025 H716 V3027 M700,3020 V3034 H737 V3009 H790 V3030 M811,2982 V3060 H773 M829,2982 V3066 H785 M829,2986 H835 V2989"/>
<circle cx="690" cy="2982" r="1.3" fill="#222"/><circle cx="706" cy="3001" r="1.3" fill="#222"/>
<use href="#gnd" x="716" y="3027"/><use href="#gnd" x="835" y="2989"/>
<use href="#td" x="760" y="3033"/><use href="#to" transform="translate(775,3033) scale(0.7)"/><use href="#td" x="790" y="3033"/>
<use href="#td" x="770" y="3061"/><use href="#td" x="782" y="3061"/><use href="#to" transform="translate(770,3071) scale(0.7)"/><use href="#to" transform="translate(782,3071) scale(0.7)"/>
<text class="lb" x="667" y="2996" font-size="10">U</text><text class="lb" x="856" y="2988" font-size="10">负</text><text class="lb" x="856" y="3003" font-size="10">载</text>
<text class="sc" x="760" y="3103" font-size="11" textLength="169" lengthAdjust="spacingAndGlyphs">通过外配互感器接入的单相功率表</text>
<!-- box6 BL -->
<path class="sl" d="M495,3124 H584 M596,3124 H641 M495,3134 H641 M495,3143 H611 M622,3143 H641"/>
<use href="#mX" x="514" y="3165"/>
<rect x="527" y="3181" width="38" height="15" fill="#fff" stroke="#444" stroke-width="0.8"/>
<path class="wr" d="M530,3124 V3172 M545,3134 V3172 M560,3143 V3172 M584,3124 V3200 H543 M596,3124 V3213 H543 M611,3143 V3203 H555 M622,3143 V3210 H555"/>
<circle cx="530" cy="3124" r="1.3" fill="#222"/><circle cx="545" cy="3134" r="1.3" fill="#222"/><circle cx="560" cy="3143" r="1.3" fill="#222"/>
<use href="#td" x="530" y="3175"/><use href="#td" x="545" y="3175"/><use href="#td" x="560" y="3175"/>
<use href="#td" x="540" y="3203"/><use href="#td" x="552" y="3203"/><use href="#td" x="540" y="3213"/><use href="#td" x="552" y="3213"/>
<g class="lb" font-size="11"><text x="484" y="3128">A</text><text x="484" y="3138">B</text><text x="484" y="3147">C</text><text x="645" y="3130">负</text><text x="645" y="3145">载</text></g>
<text class="sc" x="551" y="3246" font-size="11" textLength="134" lengthAdjust="spacingAndGlyphs">直接接入的三相三线功率表</text>
<!-- box6 BR -->
<path class="sl" d="M677,3124 H811 M829,3124 H869 M677,3134 H869 M677,3143 H837 M855,3143 H869"/>
<use href="#mX" x="744" y="3165"/>
<rect x="757" y="3181" width="38" height="15" fill="#fff" stroke="#444" stroke-width="0.8"/>
<path class="wr" d="M811,3124 a3,3 0 0 1 6,0 a3,3 0 0 1 6,0 a3,3 0 0 1 6,0 M837,3143 a3,3 0 0 1 6,0 a3,3 0 0 1 6,0 a3,3 0 0 1 6,0 M690,3124 V3158 M700,3134 V3158 M712,3143 V3158 M690,3158 a1.67,1.67 0 0 0 3.33,0 a1.67,1.67 0 0 0 3.33,0 a1.67,1.67 0 0 0 3.33,0 M700,3158 a2,2 0 0 0 4,0 a2,2 0 0 0 4,0 a2,2 0 0 0 4,0 M690,3165 a1.67,1.67 0 0 1 3.33,0 a1.67,1.67 0 0 1 3.33,0 a1.67,1.67 0 0 1 3.33,0 M700,3165 a2,2 0 0 1 4,0 a2,2 0 0 1 4,0 a2,2 0 0 1 4,0 M690,3165 V3190 H730 V3160 H760 V3171 M712,3165 V3180 H722 V3150 H790 V3171 M700,3168 H738 V3155 H775 V3171 M811,3124 V3203 H773 M829,3124 V3214 H773 M837,3143 V3199 H785 M855,3143 V3210 H785 M829,3127 H833 V3129 M855,3146 H860 V3150"/>
<circle cx="690" cy="3124" r="1.3" fill="#222"/><circle cx="700" cy="3134" r="1.3" fill="#222"/><circle cx="712" cy="3143" r="1.3" fill="#222"/>
<use href="#gnd" x="833" y="3129"/><use href="#gnd" x="860" y="3150"/><use href="#gnd" x="703" y="3170"/>
<use href="#td" x="760" y="3175"/><use href="#td" x="775" y="3175"/><use href="#td" x="790" y="3175"/>
<use href="#td" x="770" y="3203"/><use href="#td" x="782" y="3203"/><use href="#td" x="770" y="3213"/><use href="#td" x="782" y="3213"/>
<g class="lb" font-size="11"><text x="666" y="3128">A</text><text x="666" y="3138">B</text><text x="666" y="3147">C</text><text x="878" y="3130">负</text><text x="878" y="3145">载</text></g>
<text class="sc" x="778" y="3246" font-size="11" textLength="191" lengthAdjust="spacingAndGlyphs">通过外配互感器接入的三相三线功率表</text>

<text x="30" y="3278" font-size="14" textLength="207" lengthAdjust="spacingAndGlyphs" style="fill:#333">注：带*标记的端子为电流进线端</text>
<text x="476" y="3280" font-size="14" textLength="207" lengthAdjust="spacingAndGlyphs" style="fill:#333">注：带*标记的端子为电流进线端</text>
<text class="tl" x="219" y="3312" textLength="115" lengthAdjust="spacingAndGlyphs">6L2-W、var接线图</text>
<text class="tl" x="680" y="3312" textLength="123" lengthAdjust="spacingAndGlyphs">42L6-W、var接线图</text>

<!-- ================= WIRING ROW 3 ================= -->
<rect class="bx" x="30" y="3393" width="425" height="149"/>
<rect class="bx" x="472" y="3393" width="425" height="150"/>

<!-- box7 left -->
<path class="sl" d="M77,3409 H119 M131,3409 H195 M77,3420 H195 M77,3429 H195"/>
<use href="#mW" x="94" y="3451"/>
<path class="wr" d="M119,3409 V3474 H115 M131,3409 V3474 H134 M171,3420 V3501 H118 V3492 M180,3429 V3488 H142"/>
<use href="#tw" x="111" y="3474"/><use href="#tw" x="138" y="3474"/><use href="#tw" x="111" y="3488"/><use href="#tw" x="138" y="3488"/>
<g font-size="6.5" class="sc"><text x="111" y="3466">IA</text><text x="111" y="3460">*</text><text x="138" y="3466">IA</text><text x="111" y="3500">UB</text><text x="138" y="3500">UC</text></g>
<g class="lb" font-size="10"><text x="65" y="3413">A</text><text x="65" y="3424">B</text><text x="65" y="3433">C</text><text x="200" y="3418">负</text><text x="200" y="3432">载</text></g>
<text class="sc" x="131" y="3528" font-size="11" textLength="130" lengthAdjust="spacingAndGlyphs">直接接入的三相功率因数表</text>
<!-- box7 right -->
<path class="sl" d="M281,3409 H323 M335,3409 H398 M281,3420 H398 M281,3429 H398"/>
<use href="#mW" x="298" y="3451"/>
<path class="wr" d="M323,3409 a2,2 0 0 1 4,0 a2,2 0 0 1 4,0 a2,2 0 0 1 4,0 M323,3409 V3474 H319 M335,3409 V3470 H338 M335,3412 H341 V3415 M371,3420 V3436 M383,3429 V3436 M371,3436 a2,2 0 0 0 4,0 a2,2 0 0 0 4,0 a2,2 0 0 0 4,0 M371,3441 a2,2 0 0 1 4,0 a2,2 0 0 1 4,0 a2,2 0 0 1 4,0 M371,3441 V3501 H322 V3492 M383,3441 V3488 H346 M383,3444 H389 V3447"/>
<circle cx="371" cy="3420" r="1.3" fill="#222"/><circle cx="383" cy="3429" r="1.3" fill="#222"/>
<use href="#gnd" x="341" y="3415"/><use href="#gnd" x="389" y="3447"/>
<use href="#tw" x="315" y="3474"/><use href="#tw" x="342" y="3474"/><use href="#tw" x="315" y="3488"/><use href="#tw" x="342" y="3488"/>
<g font-size="6.5" class="sc"><text x="315" y="3466">IA</text><text x="315" y="3460">*</text><text x="342" y="3466">IA</text><text x="315" y="3500">UB</text><text x="342" y="3500">UC</text></g>
<g class="lb" font-size="10"><text x="269" y="3413">A</text><text x="269" y="3424">B</text><text x="269" y="3433">C</text><text x="403" y="3418">负</text><text x="403" y="3432">载</text></g>
<text class="sc" x="336" y="3528" font-size="11" textLength="186" lengthAdjust="spacingAndGlyphs">通过外配互感器接入的三相功率因数表</text>

<!-- box8 left -->
<path class="sl" d="M497,3406 H535 M551,3406 H628 M497,3417 H628 M497,3427 H628"/>
<g transform="translate(516,3452) scale(1.08)"><use href="#mX"/></g>
<path class="wr" d="M535,3406 V3470 M551,3406 V3494 H539 M599,3417 V3467 H570 V3470 M611,3427 V3485 H570 V3490"/>
<g transform="translate(535,3474) scale(1.4)"><use href="#td"/></g><g transform="translate(566,3474) scale(1.4)"><use href="#td"/></g><g transform="translate(535,3494) scale(1.4)"><use href="#td"/></g><g transform="translate(566,3494) scale(1.4)"><use href="#td"/></g>
<g font-size="7" class="sc"><text x="527" y="3478">IA</text><text x="527" y="3498">IA</text><text x="574" y="3478">B</text><text x="574" y="3498">C</text></g>
<g class="lb" font-size="11"><text x="485" y="3410">A</text><text x="485" y="3421">B</text><text x="485" y="3431">C</text><text x="635" y="3415">负</text><text x="635" y="3429">载</text></g>
<text class="sc" x="554" y="3532" font-size="11" textLength="144" lengthAdjust="spacingAndGlyphs">直接接入的三相功率因数表</text>
<!-- box8 right -->
<path class="sl" d="M722,3406 H760 M775,3406 H850 M722,3417 H850 M722,3427 H850"/>
<g transform="translate(742,3452) scale(1.06)"><use href="#mX"/></g>
<path class="wr" d="M760,3406 a2.5,2.5 0 0 1 5,0 a2.5,2.5 0 0 1 5,0 a2.5,2.5 0 0 1 5,0 M760,3406 V3470 M775,3406 V3494 H765 M775,3409 H783 V3412 M823,3417 V3437 M835,3427 V3437 M823,3437 a2,2 0 0 0 4,0 a2,2 0 0 0 4,0 a2,2 0 0 0 4,0 M823,3443 a2,2 0 0 1 4,0 a2,2 0 0 1 4,0 a2,2 0 0 1 4,0 M823,3443 V3467 H796 M835,3443 V3485 H796 V3490 M835,3446 H844 V3449"/>
<circle cx="823" cy="3417" r="1.3" fill="#222"/><circle cx="835" cy="3427" r="1.3" fill="#222"/>
<use href="#gnd" x="783" y="3412"/><use href="#gnd" x="844" y="3449"/>
<g transform="translate(761,3474) scale(1.4)"><use href="#td"/></g><g transform="translate(792,3474) scale(1.4)"><use href="#td"/></g><g transform="translate(761,3494) scale(1.4)"><use href="#td"/></g><g transform="translate(792,3494) scale(1.4)"><use href="#td"/></g>
<g font-size="7" class="sc"><text x="753" y="3478">IA</text><text x="753" y="3498">IA</text><text x="800" y="3478">B</text><text x="800" y="3498">C</text></g>
<g class="lb" font-size="11"><text x="710" y="3410">A</text><text x="710" y="3421">B</text><text x="710" y="3431">C</text><text x="860" y="3415">负</text><text x="860" y="3429">载</text></g>
<text class="sc" x="779" y="3532" font-size="11" textLength="202" lengthAdjust="spacingAndGlyphs">通过外配互感器接入的三相功率因数表</text>

<text x="30" y="3565" font-size="14" textLength="208" lengthAdjust="spacingAndGlyphs" style="fill:#333">注：带*标记的端子为电流进线端</text>
<text x="473" y="3562" font-size="14" textLength="208" lengthAdjust="spacingAndGlyphs" style="fill:#333">注：带*标记的端子为电流进线端</text>
<text class="tl" x="251" y="3608" textLength="118" lengthAdjust="spacingAndGlyphs">6L2-COSΦ接线图</text>
<text class="tl" x="689" y="3608" textLength="127" lengthAdjust="spacingAndGlyphs">42L6-COSΦ接线图</text>
</svg>
</body></html>
